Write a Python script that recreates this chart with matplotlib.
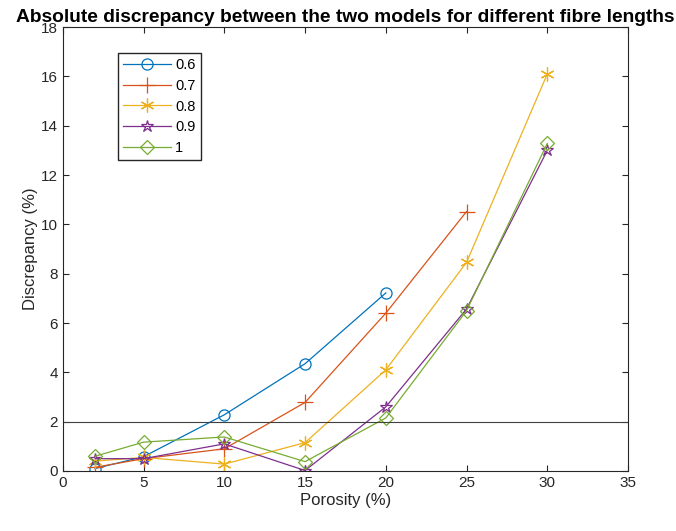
import matplotlib
matplotlib.use('Agg')
import matplotlib.pyplot as plt

plt.rcParams['font.family'] = ['Liberation Sans', 'DejaVu Sans']

# Datos
porosity = [2, 5, 10, 15, 20, 25, 30]
labels = ['0.6', '0.7', '0.8', '0.9', '1']
d06 = [0.1, 0.58, 2.28, 4.35, 7.22]
d07 = [0.15, 0.5, 0.9, 2.78, 6.4, 10.52]
d08 = [0.4, 0.55, 0.28, 1.15, 4.1, 8.46, 16.1]
d09 = [0.5, 0.5, 1.1, 0.02, 2.6, 6.57, 13.0]
d10 = [0.6, 1.17, 1.38, 0.38, 2.15, 6.5, 13.28]
series = [d06, d07, d08, d09, d10]
threshold = 2

colors = ['#0072BD', '#D95319', '#EDB120', '#7E2F8E', '#77AC30']
# asterisco estilo MATLAB para 0.8, estrella para 0.9
markers = ['o', '+', (6, 2, 0), '*', 'D']
msizes = [8, 11, 10, 9, 7]

fig = plt.figure(figsize=(6.76, 5.31), dpi=100)
ax = fig.add_axes([0.093, 0.113, 0.836, 0.836])

for i, d in enumerate(series):
    ax.plot(porosity[:len(d)], d, color=colors[i], marker=markers[i],
            markersize=msizes[i], markerfacecolor='none',
            markeredgecolor=colors[i], linewidth=0.9, markeredgewidth=0.9,
            label=labels[i])

ax.axhline(threshold, color='#404040', linewidth=0.8)

ax.set_xlim(0, 35)
ax.set_ylim(0, 18)
ax.set_xticks(range(0, 36, 5))
ax.set_yticks(range(0, 19, 2))
ax.tick_params(direction='in', top=True, right=True, labelsize=11, colors='#262626', length=4)
for s in ax.spines.values():
    s.set_color('#262626')
    s.set_linewidth(0.8)

ax.set_xlabel('Porosity (%)', fontsize=12, color='#262626', labelpad=2)
ax.set_ylabel('Discrepancy (%)', fontsize=12, color='#262626', labelpad=2)
ax.set_title('Absolute discrepancy between the two models for different fibre lengths',
             fontsize=13.8, fontweight='bold', pad=4)

ax.legend(loc='upper left', bbox_to_anchor=(0.097, 0.941), borderaxespad=0,
          fontsize=10.5, fancybox=False, edgecolor='#262626', framealpha=1,
          handlelength=3.3, handletextpad=0.3, borderpad=0.35, labelspacing=0.45)

fig.savefig('out.png', dpi=100)
